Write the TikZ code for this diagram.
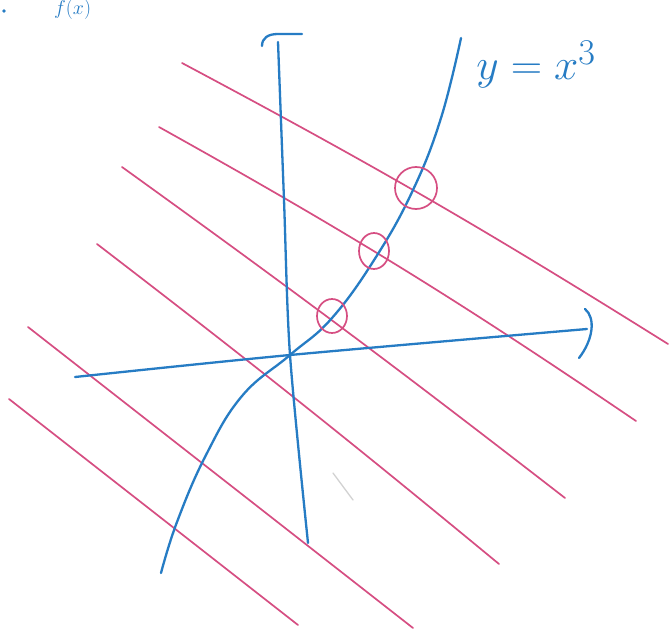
\documentclass[tikz,border=0pt]{standalone}
\usepackage{tikz}
\definecolor{pk}{RGB}{214,78,130}
\definecolor{bl}{RGB}{38,124,196}
\begin{document}
\begin{tikzpicture}[x=1pt,y=-1pt,
  pinkline/.style={draw=pk, line width=1.7pt, line cap=round},
  pinkring/.style={draw=pk, line width=1.7pt},
  blueline/.style={draw=bl, line width=2.3pt, line cap=round, line join=round},
  inktext/.style={text=bl, font=\Huge, scale=1.75},
  smalltext/.style={text=bl, font=\Huge, scale=0.8}]
\useasboundingbox (0,0) rectangle (671,631);
\fill[white] (0,0) rectangle (671,631);

% text at the top edge
\node[smalltext, anchor=base west, inner sep=0pt] (ftxt) at (54,15) {$f(x)$};
\fill[bl] (4,11) circle (1.8pt);

% pink parallel lines
\draw[pinkline] (182,63) to[bend left=2] (668,344);
\draw[pinkline] (159,127) to[bend left=2.5] (636,421);
\draw[pinkline] (122,167) to[bend left=1] (565,498);
\draw[pinkline] (97,244) to[bend left=1] (499,564);
\draw[pinkline] (28,327) to (413,628);
\draw[pinkline] (9,399) to (298,625);

% faint pencil mark
\draw[gray!35, line width=1.3pt, line cap=round] (333,473) -- (353,500);

% axes
\coordinate (O) at (290,355);
\coordinate (ytop) at (278,42);
\coordinate (ybot) at (308,543);
\coordinate (xl) at (75,377);
\coordinate (xr) at (587,329);
\draw[blueline] plot[smooth] coordinates {(ytop) (284,200) (O) (ybot)};
\draw[blueline] (262,46) .. controls (262,38) and (268,34) .. (278,34) -- (302,34);
\draw[blueline] plot[smooth] coordinates {(xl) (O) (xr)};
\draw[blueline] (585,309) .. controls (596,318) and (593,340) .. (579,358);

% y = x^3 curve
\draw[blueline] plot[smooth, tension=0.7] coordinates {
  (461,38) (441,118) (413,190) (376,257) (332,318)
  (O) (242,396) (206,455) (177,522) (161,573)};

% circled intersections
\draw[pinkring] (416,188) ellipse [x radius=21, y radius=21];
\draw[pinkring] (374,251) ellipse [x radius=15, y radius=18];
\draw[pinkring] (332,316) ellipse [x radius=15, y radius=17];

% label
\node[inktext, anchor=base west, inner sep=0pt] (lbl) at (476,80) {$y=x^3$};
\end{tikzpicture}
\end{document}
